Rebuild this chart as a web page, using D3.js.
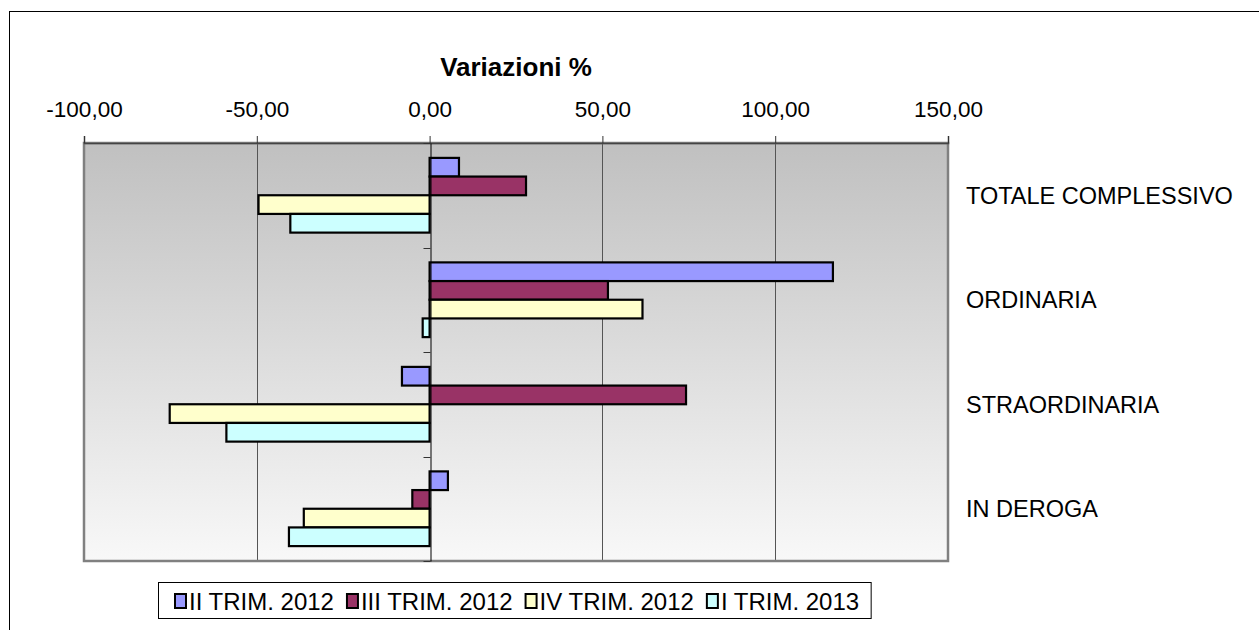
<!DOCTYPE html>
<html>
<head>
<meta charset="utf-8">
<script src="https://cdn.jsdelivr.net/npm/d3@7/dist/d3.min.js"></script>
<style>
  html, body { margin: 0; padding: 0; background: #fff; }
  svg { display: block; font-family: Arial, "Liberation Sans", sans-serif; }
</style>
</head>
<body>
<svg id="chart" width="1259" height="630"></svg>
<script>
const categories = ["TOTALE COMPLESSIVO", "ORDINARIA", "STRAORDINARIA", "IN DEROGA"];
const seriesNames = ["II TRIM. 2012", "III TRIM. 2012", "IV TRIM. 2012", "I TRIM. 2013"];
const seriesColors = ["#9999FF", "#993366", "#FFFFCC", "#CCFFFF"];
const trim2_2012 = [8.5, 116.7, -8.0, 5.3];
const trim3_2012 = [27.9, 51.6, 74.2, -5.0];
const trim4_2012 = [-49.5, 61.6, -75.2, -36.4];
const trim1_2013 = [-40.3, -2.0, -58.8, -40.7];
const tickValues = [-100, -50, 0, 50, 100, 150];
const titleText = "Variazioni %";

const seriesValues = [trim2_2012, trim3_2012, trim4_2012, trim1_2013];
const rows = [];
categories.forEach((c, ci) => {
  seriesNames.forEach((s, si) => {
    rows.push({ cat: c, series: s, si: si, value: seriesValues[si][ci] });
  });
});

const svg = d3.select("#chart");
const plot = { left: 84, right: 948, top: 143, bottom: 561 };

// outer frame
svg.append("rect")
  .attr("x", 9.5).attr("y", 11.5)
  .attr("width", 1300).attr("height", 700)
  .attr("fill", "none").attr("stroke", "#000").attr("stroke-width", 1);

const x = d3.scaleLinear().domain([-100, 150]).range([plot.left, plot.right]);
const y = d3.scaleBand().domain(categories).range([plot.top, plot.bottom])
  .paddingInner(0.285).paddingOuter(0.1425);
const yInner = d3.scaleBand().domain(seriesNames).range([0, y.bandwidth()]);

// gradient background
const defs = svg.append("defs");
const grad = defs.append("linearGradient").attr("id", "bg")
  .attr("x1", 0).attr("y1", 0).attr("x2", 0).attr("y2", 1);
grad.append("stop").attr("offset", "0%").attr("stop-color", "#c0c0c0");
grad.append("stop").attr("offset", "100%").attr("stop-color", "#f8f8f8");

svg.append("rect")
  .attr("x", plot.left).attr("y", plot.top)
  .attr("width", plot.right - plot.left).attr("height", plot.bottom - plot.top)
  .attr("fill", "url(#bg)");

// gridlines
svg.append("g").selectAll("line")
  .data(tickValues.filter(v => v !== 0 && v !== -100 && v !== 150))
  .join("line")
  .attr("x1", d => Math.round(x(d)) + 0.5).attr("x2", d => Math.round(x(d)) + 0.5)
  .attr("y1", plot.top).attr("y2", plot.bottom)
  .attr("stroke", "#555").attr("stroke-width", 1);

// plot border
svg.append("rect")
  .attr("x", plot.left).attr("y", plot.top)
  .attr("width", plot.right - plot.left).attr("height", plot.bottom - plot.top)
  .attr("fill", "none").attr("stroke", "#808080").attr("stroke-width", 2.5);

// top axis
const fmt = d3.formatLocale({ decimal: ",", thousands: ".", grouping: [3], currency: ["", "€"], minus: "-" }).format(".2f");
const xAxis = d3.axisTop(x).tickValues(tickValues)
  .tickFormat(fmt)
  .tickSize(7).tickPadding(19);
const gx = svg.append("g").attr("transform", `translate(0,${plot.top})`).call(xAxis);
gx.select(".domain").attr("stroke", "#444").attr("stroke-width", 1.5);
gx.selectAll(".tick line").attr("stroke", "#333");
gx.selectAll(".tick text").attr("font-size", 22.5).attr("fill", "#000")
  .attr("font-family", "Arial, 'Liberation Sans', sans-serif");

// bars
const bars = svg.append("g");
bars.selectAll("rect")
  .data(rows)
  .join("rect")
  .attr("x", d => x(Math.min(0, d.value)))
  .attr("width", d => Math.abs(x(d.value) - x(0)))
  .attr("y", d => y(d.cat) + yInner(d.series))
  .attr("height", yInner.bandwidth())
  .attr("fill", d => seriesColors[d.si])
  .attr("stroke", "#000").attr("stroke-width", 2.2);

// category axis at zero
const catAxis = d3.axisLeft(y).tickValues([]).tickSize(0);
const gy = svg.append("g").attr("transform", `translate(${Math.round(x(0)) + 0.5},0)`).call(catAxis);
gy.select(".domain").attr("stroke", "#000").attr("stroke-width", 1);
const bounds = d3.range(categories.length + 1).map(i => plot.top + i * y.step());
gy.selectAll(".cattick").data(bounds).join("line").attr("class", "cattick")
  .attr("x1", -7).attr("x2", 0)
  .attr("y1", d => Math.round(d) + 0.5).attr("y2", d => Math.round(d) + 0.5)
  .attr("stroke", "#333");

// category labels
svg.append("g").selectAll("text")
  .data(categories)
  .join("text")
  .attr("x", 966)
  .attr("y", d => y(d) + y.bandwidth() / 2 + 8.5)
  .attr("font-size", 23.5)
  .attr("fill", "#000")
  .text(d => d);

// title
svg.append("text")
  .attr("x", 516).attr("y", 76)
  .attr("text-anchor", "middle")
  .attr("font-size", 26).attr("font-weight", "bold")
  .text(titleText);

// legend
const lg = svg.append("g");
const legendBox = lg.append("rect")
  .attr("y", 582.5).attr("height", 36)
  .attr("fill", "#fff").attr("stroke", "#000").attr("stroke-width", 1);
let cx = 175;
seriesNames.forEach((s, i) => {
  lg.append("rect")
    .attr("x", cx).attr("y", 594)
    .attr("width", 11).attr("height", 14)
    .attr("fill", seriesColors[i]).attr("stroke", "#000").attr("stroke-width", 2);
  const t = lg.append("text")
    .attr("x", cx + 14).attr("y", 610)
    .attr("font-size", 24).text(s);
  const w = t.node().getComputedTextLength();
  cx = cx + 14 + w + 13;
});
legendBox.attr("x", 158.5).attr("width", cx - 1 - 158.5);
</script>
</body>
</html>
